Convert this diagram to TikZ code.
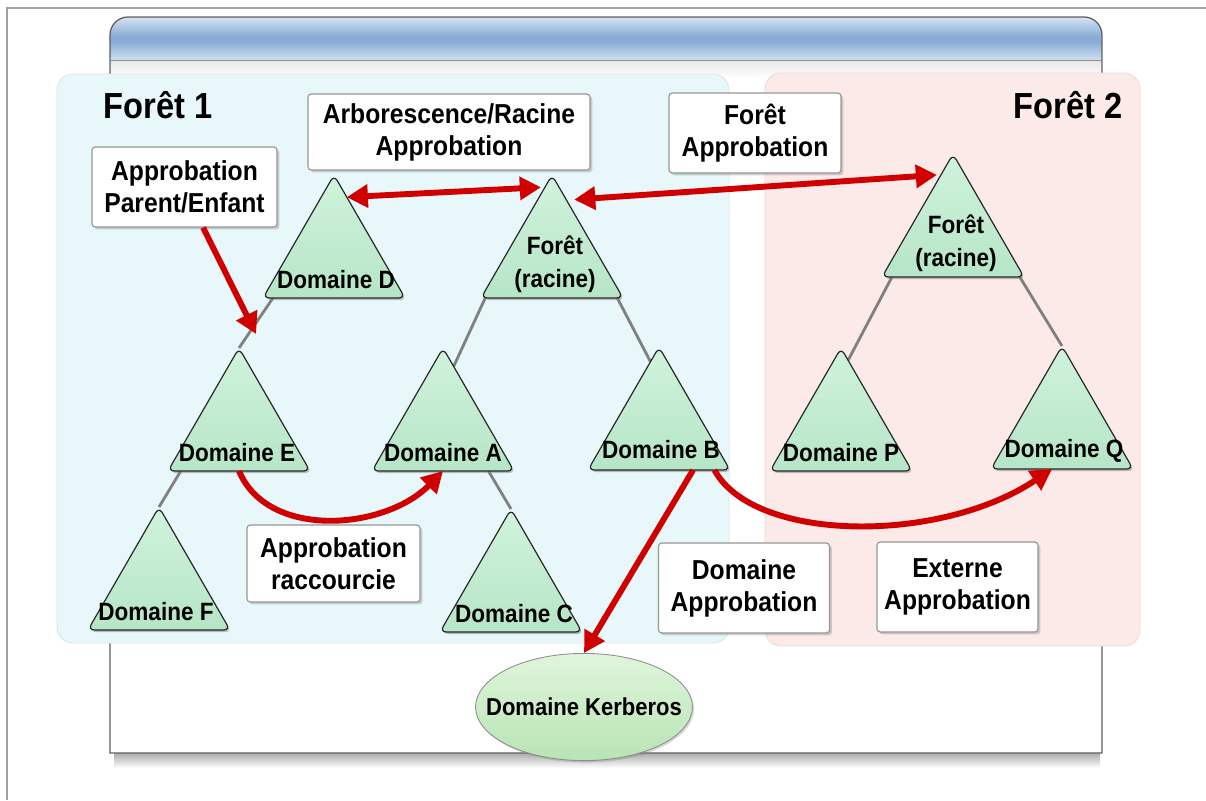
\documentclass[tikz,border=0pt]{standalone}
\usepackage{fontspec}
\setmainfont{Liberation Sans}[FakeStretch=0.9]
\usetikzlibrary{shapes.geometric,arrows.meta,calc,shadows}

\definecolor{frameline}{RGB}{160,160,160}
\definecolor{winedge}{RGB}{95,95,95}
\definecolor{barTop}{RGB}{214,227,242}
\definecolor{barMid}{RGB}{138,172,214}
\definecolor{barBot}{RGB}{208,223,241}
\definecolor{panelA}{RGB}{232,247,249}
\definecolor{panelAedge}{RGB}{214,232,236}
\definecolor{panelB}{RGB}{251,234,231}
\definecolor{panelBedge}{RGB}{238,218,214}
\definecolor{triTop}{RGB}{208,243,220}
\definecolor{triBot}{RGB}{182,229,199}
\definecolor{triEdge}{RGB}{40,40,40}
\definecolor{trust}{RGB}{208,0,0}
\definecolor{branch}{RGB}{128,128,128}
\definecolor{boxedge}{RGB}{150,150,150}
\definecolor{kerbTop}{RGB}{224,245,220}
\definecolor{kerbBot}{RGB}{184,228,180}

\pgfdeclarelayer{back}
\pgfdeclarelayer{lines}
\pgfsetlayers{back,lines,main}

\tikzset{
  tri/.style={regular polygon, regular polygon sides=3, minimum size=41mm,
    inner sep=0pt, outer sep=0pt, draw=triEdge, line width=0.85pt,
    rounded corners=1.6mm, top color=triTop, bottom color=triBot,
    drop shadow={shadow xshift=0.4mm, shadow yshift=-0.5mm, opacity=0.5}},
  tlab/.style={align=center, inner sep=0pt,
    font=\fontsize{17.8pt}{23.2pt}\selectfont\bfseries},
  lbox/.style={draw=boxedge, line width=0.8pt, fill=white, rounded corners=0.8mm,
    align=center, inner sep=0pt,
    font=\fontsize{19.5pt}{22.8pt}\selectfont\bfseries,
    drop shadow={shadow xshift=0.6mm, shadow yshift=-0.6mm, opacity=0.35}},
  foresttitle/.style={inner sep=0pt, anchor=base,
    font=\fontsize{25.8pt}{30pt}\selectfont\bfseries},
  treeline/.style={draw=branch, line width=2pt},
  trustarrow/.style={draw=trust, line width=4.2pt,
    -{Triangle[length=15pt,width=16pt]}},
  trustboth/.style={draw=trust, line width=4.2pt,
    {Triangle[length=15pt,width=16pt]}-{Triangle[length=15pt,width=16pt]}},
}

\begin{document}
\begin{tikzpicture}[x=0.25mm, y=-0.25mm]
\useasboundingbox (0,0) rectangle (1206,800);

\begin{pgfonlayer}{back}
  \fill[white] (0,0) rectangle (1206,800);
  % page frame
  \draw[frameline, line width=0.8pt] (7,800) -- (7,8) -- (1206,8);
  % window with its shadow
  \shade[top color=black!35, bottom color=white] (114,752) rectangle (1100,768);
  \fill[white] (110,753) -- (110,35) arc[start angle=180, end angle=90, radius=4.5mm]
    -- (1084,17) arc[start angle=90, end angle=0, radius=4.5mm] -- (1102,753) -- cycle;
  % title bar: light edges, stronger blue band in the middle
  \begin{scope}
    \clip (110,60) -- (110,35) arc[start angle=180, end angle=90, radius=4.5mm]
      -- (1084,17) arc[start angle=90, end angle=0, radius=4.5mm] -- (1102,60) -- cycle;
    \shade[top color=barTop, bottom color=barMid] (110,17) rectangle (1102,36);
    \fill[barMid] (110,35.5) rectangle (1102,42.5);
    \shade[top color=barMid, bottom color=barBot] (110,42) rectangle (1102,60);
  \end{scope}
  \shade[top color=black!10, bottom color=white] (111,60) rectangle (1101,78);
  \draw[winedge, line width=0.9pt] (110,753) -- (110,35) arc[start angle=180, end angle=90, radius=4.5mm]
    -- (1084,17) arc[start angle=90, end angle=0, radius=4.5mm] -- (1102,753) -- cycle;
  \draw[winedge!70, line width=0.7pt] (110,60) -- (1102,60);
  % forest panels
  \filldraw[fill=panelA, draw=panelAedge, line width=0.6pt, rounded corners=4mm] (57,74) rectangle (729,643);
  \filldraw[fill=panelB, draw=panelBedge, line width=0.6pt, rounded corners=4mm] (765,73) rectangle (1140,646);
\end{pgfonlayer}

% forest titles
\node[foresttitle] (t1) at (158,118) {Forêt 1};
\node[foresttitle] (t2) at (1068,118) {Forêt 2};

% domains (trees)
\node[tri] (D)  at (334,257) {};
\node[tri] (R1) at (552,257) {};
\node[tri] (E)  at (239,430) {};
\node[tri] (A)  at (443,430) {};
\node[tri] (B)  at (659,429) {};
\node[tri] (F)  at (159,589) {};
\node[tri] (C)  at (511,591) {};
\node[tri] (R2) at (953,236) {};
\node[tri] (P)  at (841,430) {};
\node[tri] (Q)  at (1062,428) {};

\node[tlab] (Dl)  at ($(D)+(2,23)$)  {Domaine D};
\node[tlab] (R1l) at ($(R1)+(3,7)$)  {Forêt\\(racine)};
\node[tlab] (El)  at ($(E)+(-2,23)$) {Domaine E};
\node[tlab] (Al)  at ($(A)+(0,23)$)  {Domaine A};
\node[tlab] (Bl)  at ($(B)+(2,21)$)  {Domaine B};
\node[tlab] (Fl)  at ($(F)+(-3,23)$) {Domaine F};
\node[tlab] (Cl)  at ($(C)+(3,23)$)  {Domaine C};
\node[tlab] (R2l) at ($(R2)+(3,7)$)  {Forêt\\(racine)};
\node[tlab] (Pl)  at ($(P)+(0,23)$)  {Domaine P};
\node[tlab] (Ql)  at ($(Q)+(2,23)$)  {Domaine Q};

% Kerberos realm
\node[ellipse, minimum height=26.8mm, inner xsep=-5.3mm, inner ysep=0pt,
  draw=black!45, line width=0.6pt, top color=kerbTop, bottom color=kerbBot,
  font=\fontsize{17.4pt}{20pt}\selectfont\bfseries,
  drop shadow={shadow xshift=0.4mm, shadow yshift=-0.5mm, opacity=0.3}]
  (K) at (584,707) {Domaine Kerberos};

% parent/child links
\begin{pgfonlayer}{lines}
  \draw[treeline] ($(D.corner 2)!0.07!(D.corner 3)$) -- (E.corner 1);
  \draw[treeline] ($(E.corner 2)!0.09!(E.corner 3)$) -- (F.corner 1);
  \draw[treeline] ($(R1.corner 2)!0.03!(R1.corner 3)$) -- ($(A.corner 1)!0.15!(A.corner 3)$);
  \draw[treeline] ($(R1.corner 2)!0.96!(R1.corner 3)$) -- ($(B.corner 1)!0.12!(B.corner 2)$);
  \draw[treeline] ($(A.corner 2)!0.82!(A.corner 3)$) -- (C.corner 1);
  \draw[treeline] ($(R2.corner 2)!0.07!(R2.corner 3)$) -- ($(P.corner 1)!0.1!(P.corner 3)$);
  \draw[treeline] ($(R2.corner 2)!0.97!(R2.corner 3)$) -- (Q.corner 1);
\end{pgfonlayer}

% trust labels
\node[lbox, minimum width=46.25mm, minimum height=20mm]   (pe) at (184.5,187) {Approbation\\Parent/Enfant};
\node[lbox, minimum width=70.5mm,  minimum height=19mm]   (ar) at (449,132)   {Arborescence/Racine\\Approbation};
\node[lbox, minimum width=43mm,    minimum height=20mm]   (fa) at (755,133)   {Forêt\\Approbation};
\node[lbox, minimum width=43.25mm, minimum height=19.25mm](rc) at (333.5,563.5) {Approbation\\raccourcie};
\node[lbox, minimum width=42.75mm, minimum height=22.5mm] (da) at (744,588)   {Domaine\\Approbation};
\node[lbox, minimum width=40.25mm, minimum height=22.5mm] (ex) at (957.5,587) {Externe\\Approbation};

% trust arrows
\coordinate (pe-tip) at (256,334);
\coordinate (arL) at ($(D.corner 1)!0.18!(D.corner 3)$);
\coordinate (arR) at ($(R1.corner 1)!0.1!(R1.corner 2)+(-4,0)$);
\coordinate (faL) at ($(R1.corner 1)!0.2!(R1.corner 3)+(8,0)$);
\coordinate (faR) at ($(R2.corner 1)!0.17!(R2.corner 2)+(-4,0)$);

\draw[trustarrow] ($(pe.south west)!0.6!(pe.south east)$) -- (pe-tip);
\draw[trustboth] (arL) -- (arR);
\draw[trustboth] (faL) -- (faR);
\draw[trustarrow] (E.side 2) .. controls +(29,69) and +(-58,59) .. (A.side 2);
\draw[trustarrow] ($(B.corner 2)!0.74!(B.corner 3)$) -- (K.north);
\draw[trustarrow] ($(B.corner 2)!0.89!(B.corner 3)$) .. controls +(40,73) and +(-112,75) .. ($(Q.corner 2)!0.43!(Q.corner 3)$);

\end{tikzpicture}
\end{document}
